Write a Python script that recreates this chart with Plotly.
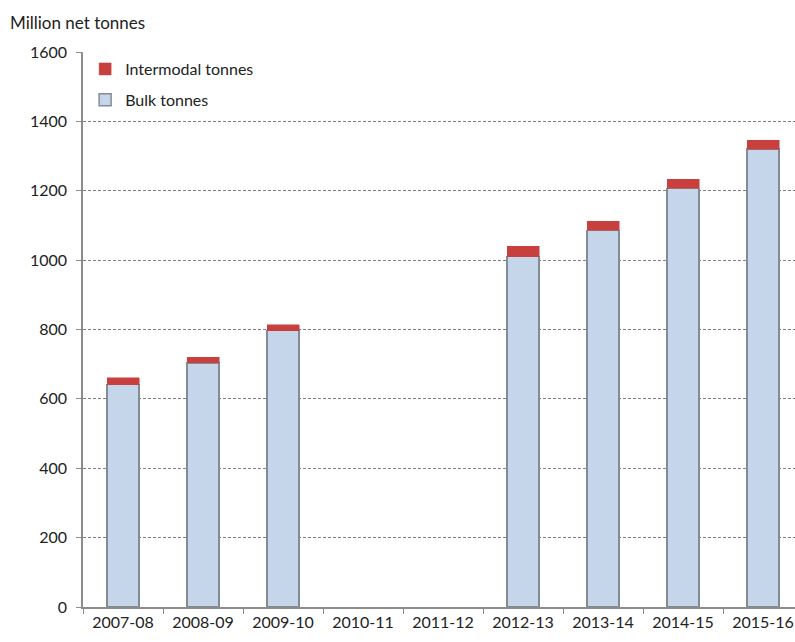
import plotly.graph_objects as go

categories = ["2007-08", "2008-09", "2009-10", "2010-11", "2011-12",
              "2012-13", "2013-14", "2014-15", "2015-16"]
bulk_tonnes = [641, 704, 797, None, None, 1010, 1086, 1207, 1320]
intermodal_tonnes = [20, 16, 17, None, None, 30, 26, 26, 26]
y_ticks = [0, 200, 400, 600, 800, 1000, 1200, 1400, 1600]

FONT = "Lato, 'Open Sans', sans-serif"

fig = go.Figure()
fig.add_trace(go.Bar(
    x=categories, y=bulk_tonnes, name="Bulk tonnes",
    marker=dict(color="#c6d6ea", line=dict(color="#858b95", width=1.5)),
    legendgroup="b", legendrank=2,
))
fig.add_trace(go.Bar(
    x=categories, y=intermodal_tonnes, name="Intermodal tonnes",
    marker=dict(color="#c8403e", line=dict(color="#c8403e", width=0.5)),
    legendgroup="a", legendrank=1,
))

fig.update_layout(
    width=795, height=642,
    margin=dict(l=83, r=0, t=52, b=35, autoexpand=False),
    paper_bgcolor="white", plot_bgcolor="white",
    barmode="stack", bargap=0.6,
    showlegend=True,
    legend=dict(
        x=0.003, y=1.0, xanchor="left", yanchor="top",
        traceorder="grouped", tracegroupgap=7,
        font=dict(family=FONT, size=16, color="#222222"),
        bgcolor="rgba(0,0,0,0)", itemwidth=30,
    ),
    font=dict(family=FONT, size=15, color="#222222"),
)
fig.update_xaxes(
    type="category",
    range=[-0.5, 8.4], automargin=False,
    showline=True, linecolor="#8c8c8c", linewidth=1.5,
    ticks="outside", tickson="boundaries", ticklen=5, tickcolor="#8c8c8c",
    tickfont=dict(family=FONT, size=16, color="#222222"),
    showgrid=False,
)
fig.update_yaxes(
    range=[0, 1600], tickvals=y_ticks, automargin=False,
    showline=True, linecolor="#8c8c8c", linewidth=1.5,
    ticks="outside", ticklen=5, tickcolor="#8c8c8c",
    ticklabelstandoff=6,
    tickfont=dict(family=FONT, size=16, color="#222222"),
    showgrid=True, gridcolor="#7f7f7f", gridwidth=1, griddash="3px,2px",
    zeroline=False,
)
fig.add_annotation(
    text="Million net tonnes", xref="paper", yref="paper",
    x=-75/712, y=1 + 30/555, xanchor="left", yanchor="middle",
    showarrow=False, font=dict(family=FONT, size=17, color="#222222"),
)

fig.write_html(
    "out.html",
    config={"displayModeBar": False},
    post_script="document.body.style.margin='0';document.body.style.overflow='hidden';",
)
